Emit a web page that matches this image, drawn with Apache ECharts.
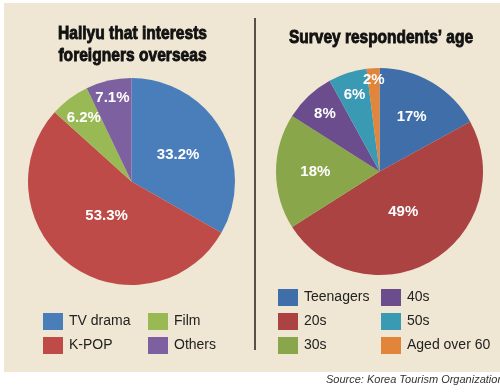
<!DOCTYPE html>
<html>
<head>
<meta charset="utf-8">
<script src="https://cdn.jsdelivr.net/npm/echarts@6/dist/echarts.min.js"></script>
<style>html,body{margin:0;padding:0;background:#fff}#c{width:500px;height:392px}</style>
</head>
<body>
<div id="c"></div>
<script>
// ---- data ----
const leftCats = ['TV drama', 'K-POP', 'Film', 'Others'];
const leftVals = [33.2, 53.3, 6.2, 7.1];
const rightCats = ['Teenagers', '20s', '30s', '40s', '50s', 'Aged over 60'];
const rightVals = [17, 49, 18, 8, 6, 2];
const leftTitle = 'Hallyu that interests\nforeigners overseas';
const rightTitle = "Survey respondents\u2019 age";
const sourceText = 'Source: Korea Tourism Organization';

// ---- style ----
const leftColors = ['#4a7ebb', '#be4b48', '#98b954', '#7d60a0'];
const rightColors = ['#3f6ea8', '#aa4342', '#8aa64a', '#6b4c8c', '#3a9ab4', '#e0853a'];
const leftLabelR = [0.52, 0.41, 0.77, 0.83];
const rightLabelR = [0.61, 0.45, 0.62, 0.77, 0.78, 0.89];
const R = 103.5;
const leftC = [131.5, 181.5];
const rightC = [379.5, 171.5];
const titleFont = 'bold 19px "Liberation Sans"';

function midAngles(vals) {
  const total = vals.reduce((a, b) => a + b, 0);
  let cum = 0;
  return vals.map(v => { const a = (cum + v / 2) / total * 2 * Math.PI; cum += v; return a; });
}
const leftMid = midAngles(leftVals);
const rightMid = midAngles(rightVals);

function layoutFn(mids, fr, c) {
  return function (p) {
    const a = mids[p.dataIndex], f = fr[p.dataIndex];
    return { x: c[0] + f * R * Math.sin(a), y: c[1] - f * R * Math.cos(a), align: 'center', verticalAlign: 'middle' };
  };
}

// horizontal condensing factor for the titles (reference uses a condensed face)
const mctx = document.createElement('canvas').getContext('2d');
mctx.font = titleFont;
const leftScale = 149 / mctx.measureText('Hallyu that interests').width;
const rightScale = 184 / mctx.measureText(rightTitle).width;

const labelStyle = {
  show: true, position: 'inside', color: '#fff', fontWeight: 'bold', fontSize: 15,
  fontFamily: 'Liberation Sans', formatter: p => p.value + '%'
};

function legendCfg(left, top, data) {
  return {
    left: left, top: top, orient: 'vertical', icon: 'rect', itemWidth: 20, itemHeight: 17, itemGap: 7,
    selectedMode: false, data: data, padding: 0,
    textStyle: { fontSize: 14, color: '#222', fontFamily: 'Liberation Sans', padding: [0, 0, 0, 1] }
  };
}

const chart = echarts.init(document.getElementById('c'), null, { renderer: 'canvas' });
chart.setOption({
  animation: false,
  backgroundColor: '#ffffff',
  graphic: [
    { type: 'rect', z: -10, shape: { x: 4, y: 3, width: 496, height: 369 }, style: { fill: '#efe6d3' } },
    { type: 'line', shape: { x1: 255, y1: 18, x2: 255, y2: 350 }, style: { stroke: '#5b5046', lineWidth: 2 } },
    { type: 'text', x: 132.5, y: 23, scaleX: leftScale, style: { text: leftTitle, textAlign: 'center', textVerticalAlign: 'top', font: titleFont, lineHeight: 22, fill: '#111', stroke: '#111', lineWidth: 0.9 } },
    { type: 'text', x: 381, y: 28, scaleX: rightScale, style: { text: rightTitle, textAlign: 'center', textVerticalAlign: 'top', font: titleFont, fill: '#111', stroke: '#111', lineWidth: 0.9 } },
    { type: 'text', x: 326, y: 380, style: { text: sourceText, textAlign: 'left', textVerticalAlign: 'middle', font: 'italic 11px "Liberation Sans"', fill: '#333' } }
  ],
  legend: [
    legendCfg(43, 313, leftCats.slice(0, 2)),
    legendCfg(148, 313, leftCats.slice(2)),
    legendCfg(278, 289, rightCats.slice(0, 3)),
    legendCfg(381, 289, rightCats.slice(3))
  ],
  series: [
    {
      type: 'pie', center: leftC, radius: R, startAngle: 90, clockwise: true,
      avoidLabelOverlap: false, silent: true,
      label: labelStyle, labelLine: { show: false },
      labelLayout: layoutFn(leftMid, leftLabelR, leftC),
      emphasis: { disabled: true },
      data: leftCats.map((n, i) => ({ name: n, value: leftVals[i], itemStyle: { color: leftColors[i] } }))
    },
    {
      type: 'pie', center: rightC, radius: R, startAngle: 90, clockwise: true,
      avoidLabelOverlap: false, silent: true,
      label: labelStyle, labelLine: { show: false },
      labelLayout: layoutFn(rightMid, rightLabelR, rightC),
      emphasis: { disabled: true },
      data: rightCats.map((n, i) => ({ name: n, value: rightVals[i], itemStyle: { color: rightColors[i] } }))
    }
  ]
});
</script>
</body>
</html>
